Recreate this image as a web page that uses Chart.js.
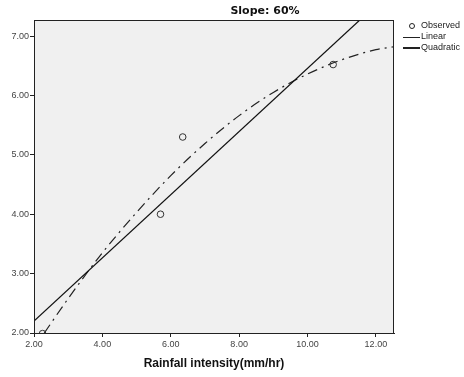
<!DOCTYPE html>
<html>
<head>
<meta charset="utf-8">
<script src="https://cdn.jsdelivr.net/npm/chart.js@4/dist/chart.umd.min.js"></script>
<style>
  html, body { margin: 0; padding: 0; background: #fff; }
  #wrap { position: relative; width: 464px; height: 377px; }
</style>
</head>
<body>
<div id="wrap"><canvas id="slopeChart" width="464" height="377"></canvas></div>
<script>
// values
const observedX = [2.25, 5.7, 6.35, 10.75];
const observedY = [1.99, 4.0, 5.3, 6.52];

const linearX = [2.0, 11.53];
const linearY = [2.2, 7.27];

const quadX = [2.3, 3, 4, 5, 6, 7, 8, 9, 10, 11, 12, 12.53];
const quadY = [2.0, 2.58, 3.35, 4.03, 4.65, 5.19, 5.66, 6.05, 6.36, 6.6, 6.77, 6.82];

const xTicks = [2, 4, 6, 8, 10, 12];
const yTicks = [2, 3, 4, 5, 6, 7];

const toPoints = (xs, ys) => xs.map((x, i) => ({ x: x, y: ys[i] }));

// grey plot area + frame, title and legend
const decor = {
  id: 'decor',
  beforeDatasetsDraw(chart) {
    const { ctx, chartArea: a } = chart;
    ctx.save();
    ctx.fillStyle = '#f0f0f0';
    ctx.fillRect(a.left, a.top, a.right - a.left, a.bottom - a.top);
    ctx.restore();
  },
  afterDraw(chart) {
    const { ctx, chartArea: a } = chart;
    ctx.save();
    ctx.strokeStyle = '#222';
    ctx.lineWidth = 1;
    ctx.strokeRect(a.left + 0.5, a.top + 0.5, a.right - a.left - 1, a.bottom - a.top);

    // title
    ctx.fillStyle = '#111';
    ctx.font = 'bold 11px "DejaVu Sans", sans-serif';
    ctx.textAlign = 'center';
    ctx.textBaseline = 'middle';
    ctx.fillText('Slope: 60%', 265, 11);

    // legend
    ctx.font = '9px "Liberation Sans", Arial, sans-serif';
    ctx.textAlign = 'left';
    ctx.fillStyle = '#222';
    ctx.strokeStyle = '#222';
    ctx.beginPath();
    ctx.arc(412, 26, 2.5, 0, Math.PI * 2);
    ctx.stroke();
    ctx.fillText('Observed', 421, 26);
    ctx.beginPath();
    ctx.moveTo(403, 37.5); ctx.lineTo(420, 37.5);
    ctx.stroke();
    ctx.fillText('Linear', 421, 37);
    ctx.lineWidth = 2;
    ctx.beginPath();
    ctx.moveTo(403, 48); ctx.lineTo(420, 48);
    ctx.stroke();
    ctx.fillText('Quadratic', 421, 48);
    ctx.restore();
  }
};

const ctx = document.getElementById('slopeChart').getContext('2d');
new Chart(ctx, {
  type: 'scatter',
  data: {
    datasets: [
      {
        label: 'Observed',
        data: toPoints(observedX, observedY),
        showLine: false,
        pointRadius: 3.3,
        pointBorderWidth: 1,
        pointBorderColor: '#333',
        pointBackgroundColor: 'rgba(0,0,0,0)',
        clip: 0
      },
      {
        label: 'Linear',
        data: toPoints(linearX, linearY),
        showLine: true,
        borderColor: '#111',
        borderWidth: 1.2,
        pointRadius: 0,
        clip: 0
      },
      {
        label: 'Quadratic',
        data: toPoints(quadX, quadY),
        showLine: true,
        borderColor: '#222',
        borderWidth: 1.2,
        borderDash: [10, 5, 2, 5],
        cubicInterpolationMode: 'monotone',
        pointRadius: 0,
        clip: 0
      }
    ]
  },
  options: {
    responsive: false,
    animation: false,
    layout: { padding: { top: 20, right: 70, left: 0, bottom: 0 } },
    plugins: {
      legend: { display: false },
      tooltip: { enabled: false }
    },
    scales: {
      x: {
        type: 'linear',
        min: 2,
        max: 12.53,
        afterBuildTicks: s => { s.ticks = xTicks.map(v => ({ value: v })); },
        afterFit: s => { s.height = 44; },
        grid: { drawOnChartArea: false, drawTicks: true, tickLength: 4, color: '#222' },
        border: { display: true, color: '#222' },
        ticks: {
          color: '#444',
          padding: 2,
          maxRotation: 0,
          font: { size: 9, family: '"Liberation Sans", Arial, sans-serif' },
          callback: v => Number(v).toFixed(2)
        },
        title: {
          display: true,
          text: 'Rainfall intensity(mm/hr)',
          color: '#111',
          padding: { top: 6, bottom: 6 },
          font: { size: 12, weight: 'bold', family: '"Liberation Sans", Arial, sans-serif' }
        }
      },
      y: {
        type: 'linear',
        min: 2,
        max: 7.27,
        afterBuildTicks: s => { s.ticks = yTicks.map(v => ({ value: v })); },
        afterFit: s => { s.width = 34; },
        grid: { drawOnChartArea: false, drawTicks: true, tickLength: 4, color: '#222' },
        border: { display: true, color: '#222' },
        ticks: {
          color: '#444',
          padding: 1,
          font: { size: 9, family: '"Liberation Sans", Arial, sans-serif' },
          callback: v => Number(v).toFixed(2)
        }
      }
    }
  },
  plugins: [decor]
});
</script>
</body>
</html>
